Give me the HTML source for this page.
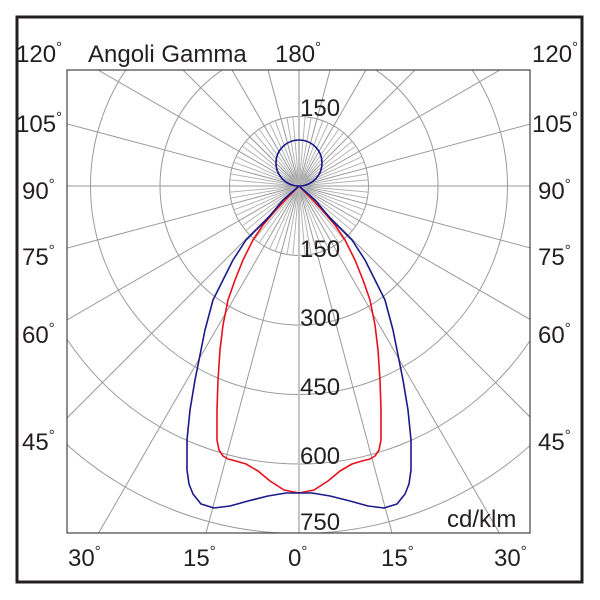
<!DOCTYPE html>
<html><head><meta charset="utf-8"><style>
html,body{margin:0;padding:0;background:#fff;overflow:hidden;width:600px;height:600px}
svg{display:block}
text{font-family:"Liberation Sans",sans-serif;font-size:24px;fill:#231f20}
.d{font-size:15px}
</style></head><body>
<svg width="600" height="600" viewBox="0 0 600 600" xmlns="http://www.w3.org/2000/svg">
<defs><clipPath id="c"><rect x="67" y="70" width="463" height="463"/></clipPath></defs>
<rect x="0" y="0" width="600" height="600" fill="#fff"/>
<g clip-path="url(#c)" stroke="#9a9a9a" stroke-width="1" fill="none">
<circle cx="299" cy="186" r="69.5"/>
<circle cx="299" cy="186" r="139"/>
<circle cx="299" cy="186" r="208.5"/>
<circle cx="299" cy="186" r="278"/>
<circle cx="299" cy="186" r="347.5"/>
<circle cx="299" cy="186" r="417"/>
<line x1="299" y1="60" x2="299" y2="540" stroke="#c4c4c4" stroke-width="2"/>
<path d="M299 186L531.9 1055.3M299 186L749 965.4M299 186L935.4 822.4M299 186L1078.4 636M299 186L1168.3 418.9M299 186L1199 186M299 186L1168.3 -46.9M299 186L1078.4 -264M299 186L935.4 -450.4M299 186L749 -593.4M299 186L531.9 -683.3
M299 186L66.1 1055.3M299 186L-151 965.4M299 186L-337.4 822.4M299 186L-480.4 636M299 186L-570.3 418.9M299 186L-601 186M299 186L-570.3 -46.9M299 186L-480.4 -264M299 186L-337.4 -450.4M299 186L-151 -593.4M299 186L66.1 -683.3"/>
<path stroke="#b4b4b4" d="M299 186l6.1 69.2M299 186l12.1 68.4M299 186l23.8 65.3M299 186l29.4 63M299 186l39.9 56.9M299 186l44.7 53.2M299 186l53.2 44.7M299 186l56.9 39.9M299 186l63 29.4M299 186l65.3 23.8M299 186l68.4 12.1M299 186l69.2 6.1
M299 186l6.1 -69.2M299 186l12.1 -68.4M299 186l23.8 -65.3M299 186l29.4 -63M299 186l39.9 -56.9M299 186l44.7 -53.2M299 186l53.2 -44.7M299 186l56.9 -39.9M299 186l63 -29.4M299 186l65.3 -23.8M299 186l68.4 -12.1M299 186l69.2 -6.1
M299 186l-6.1 69.2M299 186l-12.1 68.4M299 186l-23.8 65.3M299 186l-29.4 63M299 186l-39.9 56.9M299 186l-44.7 53.2M299 186l-53.2 44.7M299 186l-56.9 39.9M299 186l-63 29.4M299 186l-65.3 23.8M299 186l-68.4 12.1M299 186l-69.2 6.1
M299 186l-6.1 -69.2M299 186l-12.1 -68.4M299 186l-23.8 -65.3M299 186l-29.4 -63M299 186l-39.9 -56.9M299 186l-44.7 -53.2M299 186l-53.2 -44.7M299 186l-56.9 -39.9M299 186l-63 -29.4M299 186l-65.3 -23.8M299 186l-68.4 -12.1M299 186l-69.2 -6.1"/>
</g>
<g fill="none" stroke-width="1.6" stroke-linejoin="round">
<circle cx="299" cy="163" r="23" stroke="#1a1a8a"/>
<polyline stroke="#e8101a" points="299,186 310,197 322,210 335,225 345,240 355,260 363,280 370,300 375,325 378,350 380,380 381,410 381,440 379,450 375,456 370,459 362,461 352,464 340,471 328,481 314,490 299,493 284,490 270,481 258,471 246,464 236,461 228,459 223,456 219,450 217,440 217,410 218,380 220,350 223,325 228,300 235,280 243,260 253,240 263,225 276,210 288,197 299,186"/>
<polyline stroke="#1a1a8a" points="299,186 315,200 330,218 345,233 352,240 365,260 375,280 385,300 393,330 399,360 403,380 408,410 411,440 411,470 409,484 405,494 397,504 384,508 368,506 350,501 330,496 312,493 299,493 286,493 268,496 248,501 230,506 214,508 201,504 193,494 189,484 187,470 187,440 190,410 195,380 199,360 205,330 213,300 223,280 233,260 246,240 253,233 268,218 283,200 299,186"/>
</g>
<rect x="67" y="70" width="463" height="463" fill="none" stroke="#444" stroke-width="1.2"/>
<rect x="17" y="17" width="565" height="565" fill="none" stroke="#231f20" stroke-width="3"/>
<text x="16" y="62">120<tspan class="d" dy="-10">°</tspan></text>
<text x="88" y="62">Angoli Gamma</text>
<text x="275" y="62">180<tspan class="d" dy="-10">°</tspan></text>
<text x="532" y="62">120<tspan class="d" dy="-10">°</tspan></text>
<text x="16" y="132">105<tspan class="d" dy="-10">°</tspan></text>
<text x="532" y="132">105<tspan class="d" dy="-10">°</tspan></text>
<text x="22" y="199">90<tspan class="d" dy="-10">°</tspan></text>
<text x="538" y="199">90<tspan class="d" dy="-10">°</tspan></text>
<text x="22" y="265">75<tspan class="d" dy="-10">°</tspan></text>
<text x="538" y="265">75<tspan class="d" dy="-10">°</tspan></text>
<text x="22" y="343">60<tspan class="d" dy="-10">°</tspan></text>
<text x="538" y="343">60<tspan class="d" dy="-10">°</tspan></text>
<text x="22" y="450">45<tspan class="d" dy="-10">°</tspan></text>
<text x="538" y="450">45<tspan class="d" dy="-10">°</tspan></text>
<text x="68" y="566">30<tspan class="d" dy="-10">°</tspan></text>
<text x="183" y="566">15<tspan class="d" dy="-10">°</tspan></text>
<text x="288" y="566">0<tspan class="d" dy="-10">°</tspan></text>
<text x="381" y="566">15<tspan class="d" dy="-10">°</tspan></text>
<text x="494" y="566">30<tspan class="d" dy="-10">°</tspan></text>
<text x="300" y="116">150</text>
<text x="300" y="257">150</text>
<text x="300" y="326">300</text>
<text x="300" y="395">450</text>
<text x="300" y="464">600</text>
<text x="300" y="530">750</text>
<text x="447" y="527">cd/klm</text>
</svg>
</body></html>
